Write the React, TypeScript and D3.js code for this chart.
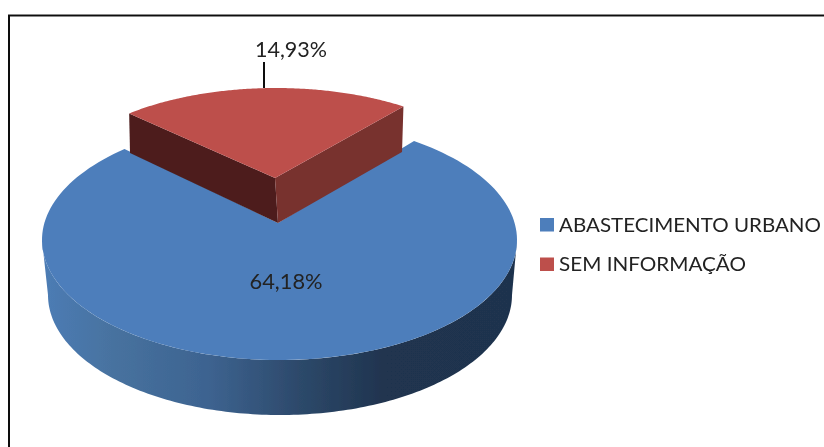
import React from "react";
import * as d3 from "d3";

const categories = ["ABASTECIMENTO URBANO", "SEM INFORMAÇÃO"];
const labels = ["64,18%", "14,93%"];
// Visible share of the drawn pie for each category.
const drawnShares = [79.1, 20.9];
const faceColors = ["#4d7ebb", "#bd4f4c"];
const redWallColors = ["#4d1f1f", "#78312f"];

const W = 824;
const H = 447;
const TAU = Math.PI * 2;
const startAngle = (34.5 / 360) * TAU;

const pie = d3.pie<number>().sort(null).startAngle(startAngle).endAngle(startAngle + TAU);
const arcs = pie(drawnShares);

type E = { cx: number; cy: number; rx: number; ry: number };
const blueTop: E = { cx: 279.5, cy: 240, rx: 237.5, ry: 120 };
const blueBottom: E = { cx: 280, cy: 295, rx: 232, ry: 120 };
const redTop: E = { cx: 276, cy: 193, rx: 225, ry: 105 };

const on = (e: E, a: number): [number, number] => [e.cx + e.rx * Math.sin(a), e.cy - e.ry * Math.cos(a)];
const sweep = (e: E, a0: number, a1: number): [number, number][] => {
  const n = 160;
  return d3.range(n + 1).map((i) => on(e, a0 + ((a1 - a0) * i) / n));
};
const line = d3.line();

const blueApex: [number, number] = [278, 223];
const redApex: [number, number] = [275, 178];

const blueFace = line([blueApex, ...sweep(blueTop, arcs[0].startAngle, arcs[0].endAngle)]) + "Z";
const blueWall =
  line([...sweep(blueTop, TAU / 4, (TAU * 3) / 4), ...sweep(blueBottom, (TAU * 3) / 4, TAU / 4)]) + "Z";

const redSweep = sweep(redTop, arcs[1].startAngle, arcs[1].endAngle);
const redFace = line([redApex, ...redSweep]) + "Z";
const redLeft = redSweep[0];
const redRight = redSweep[redSweep.length - 1];
const leftWall = line([redLeft, redApex, blueApex, [130, 153]]) + "Z";
const rightWall = line([redRight, redApex, blueApex, [402, 152]]) + "Z";

const gradStops: [number, string][] = [
  [0, "#4d7cb5"],
  [0.15, "#47729f"],
  [0.35, "#3d6390"],
  [0.55, "#2c4869"],
  [0.72, "#20344f"],
  [1, "#1f334e"],
];

const font = "Lato, 'Open Sans', sans-serif";

export default function App() {
  return (
    <svg width={W} height={H} style={{ position: "absolute", left: 0, top: 0, background: "#fff" }}>
      <defs>
        <linearGradient id="wall" gradientUnits="userSpaceOnUse" x1={42} x2={517} y1={0} y2={0}>
          {gradStops.map(([o, c]) => (
            <stop key={o} offset={o} stopColor={c} />
          ))}
        </linearGradient>
        <filter id="soft" x="-5%" y="-5%" width="110%" height="110%">
          <feGaussianBlur stdDeviation={0.45} />
        </filter>
      </defs>
      <path d={`M9 ${H}V15.5H${W}`} fill="none" stroke="#111" strokeWidth={2} filter="url(#soft)" />
      <g filter="url(#soft)">
        <path d={blueWall} fill="url(#wall)" />
        <path d={blueFace} fill={faceColors[0]} />
        <path d={leftWall} fill={redWallColors[0]} />
        <path d={rightWall} fill={redWallColors[1]} />
        <path d={redFace} fill={faceColors[1]} />
        <path d={line([[264, 62], [264, 88]]) ?? ""} stroke="#111" strokeWidth={2} />
      </g>
      <g fontFamily={font} fill="#222" filter="url(#soft)">
        <text x={291} y={57} fontSize={22} textAnchor="middle" textLength={72} lengthAdjust="spacingAndGlyphs">{labels[1]}</text>
        <text x={286} y={289} fontSize={22} textAnchor="middle" textLength={73} lengthAdjust="spacingAndGlyphs">{labels[0]}</text>
        {categories.map((c, i) => (
          <g key={c}>
            <rect x={540} y={218 + i * 39.5} width={14} height={13.5} fill={faceColors[i]} />
            <text x={559} y={231.5 + i * 39.5} fontSize={20} textLength={i === 0 ? 262 : 187} lengthAdjust="spacingAndGlyphs">{c}</text>
          </g>
        ))}
      </g>
    </svg>
  );
}
